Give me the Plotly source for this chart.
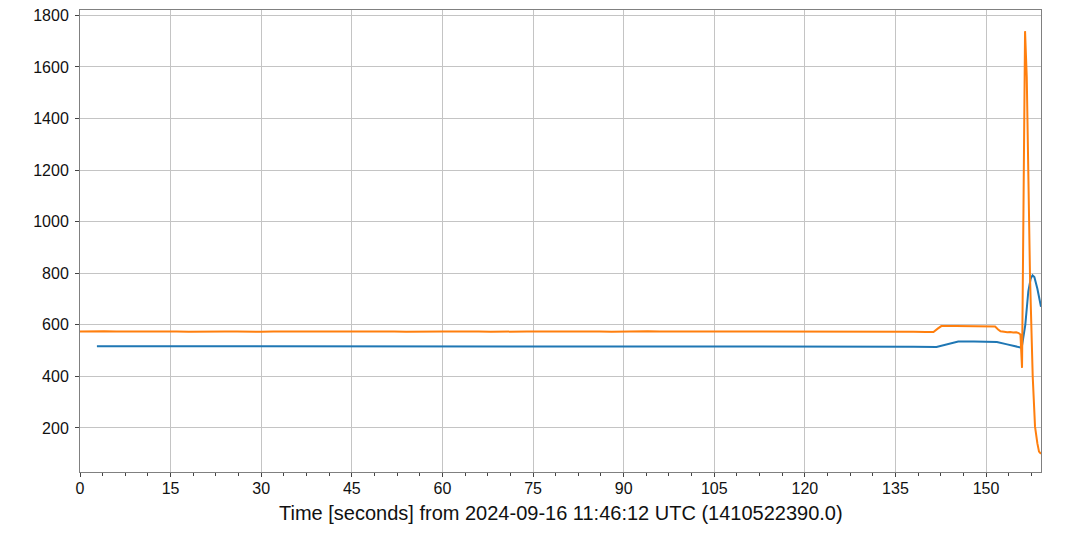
import plotly.graph_objects as go

# ---- data ----
orange_t = [0, 2, 4, 6, 8, 10, 12, 14, 16, 18, 20, 22, 24, 26, 28, 30, 32, 34, 36, 38,
            40, 42, 44, 46, 48, 50, 52, 54, 56, 58, 60, 62, 64, 66, 68, 70, 72, 74, 76, 78,
            80, 82, 84, 86, 88, 90, 92, 94, 96, 98, 100, 102, 104, 106, 108, 110, 112, 114,
            116, 118, 120, 122, 124, 126, 128, 130, 132, 134, 136, 138, 140,
            141.3, 142.0, 142.6, 145, 148, 150, 151.5, 152.0, 152.4, 153, 153.5, 154, 154.5,
            155, 155.4, 155.7, 155.96, 156.2, 156.46, 156.74, 157.0, 157.28, 157.73, 158.11,
            158.5, 158.77, 159.1]
orange_v = [574, 575, 575, 574, 575, 574, 574, 575, 574, 573, 574, 575, 574, 574, 573, 573,
            574, 574, 575, 574, 574, 575, 575, 576, 575, 574, 574, 573, 574, 575, 574, 574,
            575, 574, 573, 574, 573, 574, 574, 573, 574, 574, 575, 574, 573, 574, 574, 575,
            574, 574, 575, 574, 575, 575, 574, 574, 573, 574, 574, 573, 574, 573, 573, 574,
            573, 574, 573, 574, 574, 573, 572,
            572, 585, 595, 595, 595, 594, 593, 582, 575, 573, 571, 572, 570,
            571, 568, 562, 433, 1050, 1739, 1562, 1174, 787, 399, 205,
            140, 108, 100]

blue_t = [2.8, 10, 20, 30, 40, 50, 60, 70, 80, 90, 100, 110, 120, 130, 138, 141.8,
          143.5, 145.4, 148, 151.8, 153.5, 155.2, 155.9, 156.5, 157.0, 157.4, 157.7,
          158.0, 158.5, 159.1]
blue_v = [517, 517, 516, 516, 517, 517, 517, 516, 516, 516, 516, 516, 515, 515, 515, 514,
          524, 535, 535, 533, 524, 514, 511, 600, 730, 780, 792, 785, 740, 670]

x_ticks = [0, 15, 30, 45, 60, 75, 90, 105, 120, 135, 150]
y_ticks = [200, 400, 600, 800, 1000, 1200, 1400, 1600, 1800]
x_title = "Time [seconds] from 2024-09-16 11:46:12 UTC (1410522390.0)"

fig = go.Figure()
fig.add_trace(go.Scatter(x=blue_t, y=blue_v, mode="lines",
                         line=dict(color="#1f77b4", width=2), showlegend=False))
fig.add_trace(go.Scatter(x=orange_t, y=orange_v, mode="lines",
                         line=dict(color="#ff7f0e", width=2), showlegend=False))

axis_common = dict(
    showline=True, linecolor="#808080", linewidth=1, mirror=True,
    showgrid=True, gridcolor="#c4c4c4", gridwidth=1,
    ticks="outside", ticklen=4, tickcolor="#444", zeroline=False,
    automargin=False,
    tickfont=dict(family="Liberation Sans, Arial, sans-serif", size=16, color="#111"),
)

fig.update_layout(
    width=1069, height=535,
    margin=dict(l=80, r=28, t=10, b=63),
    paper_bgcolor="white", plot_bgcolor="white",
    font=dict(family="Liberation Sans, Arial, sans-serif", color="#111"),
    xaxis=dict(range=[0, 159.1], tickvals=x_ticks, ticklabelstandoff=-2,
               minor=dict(dtick=3.75, tick0=0, ticks="outside", ticklen=2.5,
                          tickcolor="#444", showgrid=False),
               **axis_common),
    yaxis=dict(range=[29, 1821], tickvals=y_ticks, ticklabelstandoff=3, **axis_common),
    annotations=[dict(text=x_title, xref="paper", yref="paper", x=0.5, y=-0.0887,
                      xanchor="center", yanchor="middle", showarrow=False,
                      font=dict(size=20, color="#111"))],
)

fig.write_html("out.html", config={"displayModeBar": False},
               post_script="document.body.style.margin='0px';")
